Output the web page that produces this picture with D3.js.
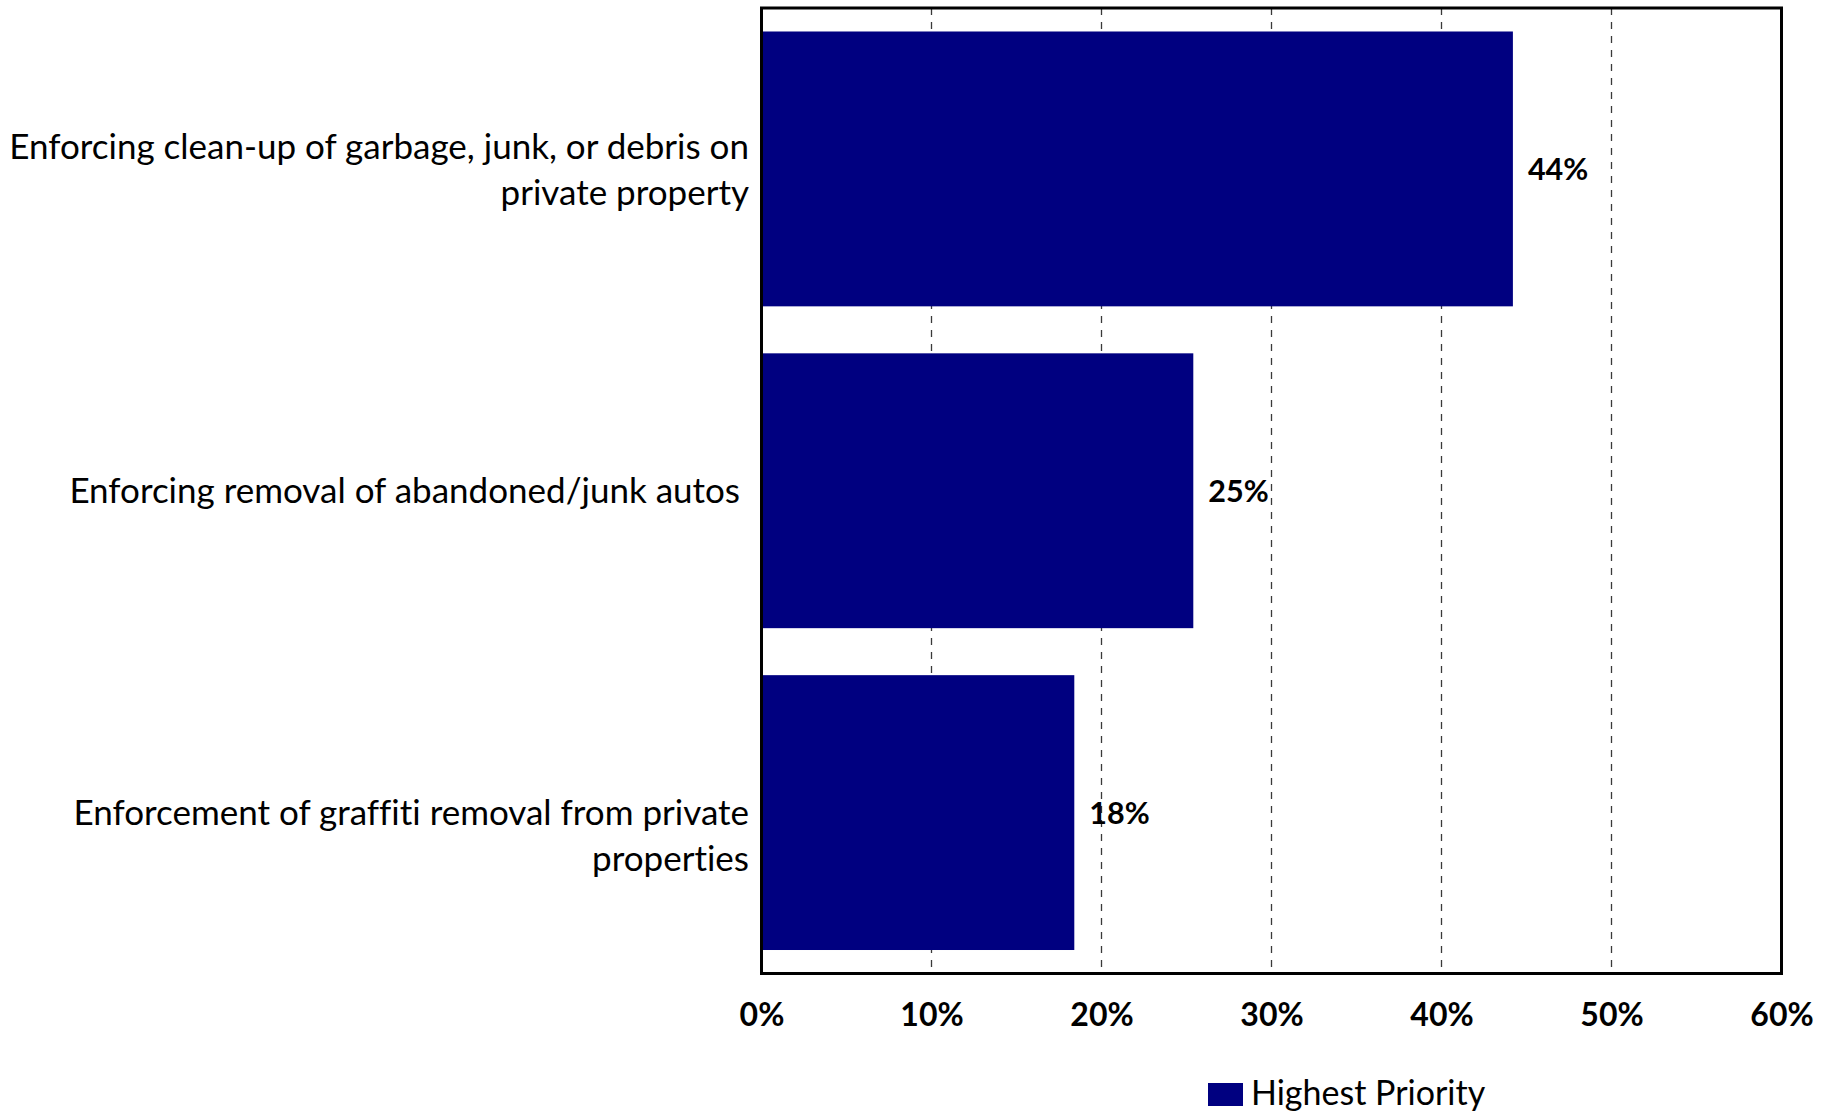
<!DOCTYPE html>
<html><head><meta charset="utf-8">
<script src="https://cdn.jsdelivr.net/npm/d3@7"></script>
<style>
html,body{margin:0;padding:0;background:#fff;}
svg{display:block;}
text{font-family:Lato,"Open Sans",sans-serif;font-variant-ligatures:no-common-ligatures;}
</style></head>
<body>
<svg id="chart" width="1835" height="1113"></svg>
<script>
const categories = [
  ["Enforcing clean-up of garbage, junk, or debris on", "private property"],
  ["Enforcing removal of abandoned/junk autos "],
  ["Enforcement of graffiti removal from private", "properties"]
];
const values = [44.2, 25.4, 18.4];
const valueLabels = ["44%", "25%", "18%"];
const tickValues = [0, 10, 20, 30, 40, 50, 60];
const seriesName = "Highest Priority";

const W = 1835, H = 1113;
const m = {left: 761.5, right: W - 1781.5, top: 8, bottom: H - 973.5};
const svg = d3.select("#chart");

const x = d3.scaleLinear().domain([0, 60]).range([m.left, W - m.right]);
const y = d3.scaleBand().domain(d3.range(categories.length))
  .range([m.top, H - m.bottom]).paddingInner(0.146).paddingOuter(0.073);

// gridlines
svg.append("g").selectAll("line").data(tickValues.filter(t => t > 0 && t < 60)).join("line")
  .attr("x1", d => x(d)).attr("x2", d => x(d))
  .attr("y1", m.top).attr("y2", H - m.bottom)
  .attr("stroke", "#3a3a3a").attr("stroke-width", 1.3).attr("stroke-dasharray", "7,7");

// bars
svg.append("g").selectAll("rect").data(values).join("rect")
  .attr("x", x(0)).attr("y", (d, i) => y(i))
  .attr("width", d => x(d) - x(0)).attr("height", y.bandwidth())
  .attr("fill", "#000080");

// frame
svg.append("rect").attr("x", m.left).attr("y", m.top)
  .attr("width", x(60) - x(0)).attr("height", (H - m.bottom) - m.top)
  .attr("fill", "none").attr("stroke", "#000").attr("stroke-width", 3);

// value labels
svg.append("g").selectAll("text").data(values).join("text")
  .attr("x", d => x(d) + 15).attr("y", (d, i) => y(i) + y.bandwidth() / 2)
  .attr("dy", "0.36em")
  .attr("font-size", 30.5).attr("font-weight", "bold").attr("fill", "#000")
  .text((d, i) => valueLabels[i]);

// x axis tick labels
const xAxis = d3.axisBottom(x).tickValues(tickValues).tickSize(0).tickPadding(0)
  .tickFormat(d => d + "%");
const gx = svg.append("g").attr("transform", `translate(0,${H - m.bottom})`).call(xAxis);
gx.select(".domain").remove();
gx.selectAll("text").attr("y", 52.5).attr("dy", 0)
  .attr("font-size", 32).attr("font-weight", "bold").attr("fill", "#000")
  .attr("font-family", "Lato, 'Open Sans', sans-serif");

// category labels
const lineH = 46;
const catG = svg.append("g");
categories.forEach((lines, i) => {
  const cy = y(i) + y.bandwidth() / 2;
  // last category's first line sits on the band centre
  const start = (i === categories.length - 1) ? 0 : -(lines.length - 1) * lineH / 2;
  const t = catG.append("text").attr("text-anchor", "end").attr("font-size", 35)
    .attr("fill", "#000").style("white-space", "pre");
  lines.forEach((ln, k) => {
    t.append("tspan").attr("x", 749).attr("y", cy + start + k * lineH).attr("dy", "0.36em").text(ln);
  });
});

// legend
const lg = svg.append("g");
lg.append("rect").attr("x", 1208).attr("y", 1083).attr("width", 35).attr("height", 23).attr("fill", "#000080");
lg.append("text").attr("x", 1251).attr("y", 1105).attr("font-size", 34).attr("fill", "#000").text(seriesName);
</script>
</body></html>
